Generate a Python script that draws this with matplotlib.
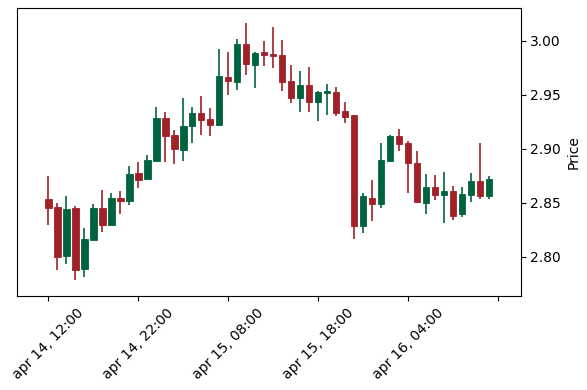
import numpy as np
import pandas as pd
import matplotlib
matplotlib.use("Agg")
from matplotlib import pyplot as plt

# hourly OHLC
opens = [2.853, 2.846, 2.801, 2.845, 2.789, 2.8155, 2.845, 2.8296, 2.8544, 2.852,
         2.8778, 2.872, 2.8886, 2.9287, 2.9127, 2.8991, 2.9213, 2.9331, 2.9275, 2.922,
         2.9664, 2.962, 2.997, 2.9778, 2.9895, 2.9877, 2.9868, 2.9627, 2.9472, 2.9593,
         2.9432, 2.9519, 2.9525, 2.9349, 2.9309, 2.8287, 2.8546, 2.8488, 2.8886, 2.9118,
         2.9056, 2.8868, 2.850, 2.8648, 2.8574, 2.8611, 2.8395, 2.8571, 2.870, 2.8565]
highs = [2.875, 2.850, 2.856, 2.847, 2.827, 2.849, 2.862, 2.8587, 2.8606, 2.884,
         2.8874, 2.894, 2.9389, 2.9337, 2.9176, 2.9472, 2.9389, 2.9491, 2.9374, 2.992,
         2.9893, 3.0016, 3.0164, 2.9893, 2.9994, 3.0124, 3.0006, 2.9775, 2.9717, 2.9756,
         2.9534, 2.9596, 2.9574, 2.943, 2.9309, 2.8587, 2.871, 2.905, 2.9127, 2.918,
         2.907, 2.898, 2.8763, 2.8756, 2.878, 2.8657, 2.8645, 2.8778, 2.905, 2.875]
lows = [2.829, 2.788, 2.793, 2.778, 2.7815, 2.8155, 2.8226, 2.8296, 2.840, 2.848,
        2.864, 2.871, 2.8874, 2.8874, 2.8858, 2.8886, 2.905, 2.9124, 2.9118, 2.922,
        2.9494, 2.954, 2.968, 2.956, 2.9766, 2.9747, 2.9534, 2.9423, 2.9337, 2.9343,
        2.9257, 2.9312, 2.9303, 2.9235, 2.816, 2.8217, 2.8333, 2.845, 2.8886, 2.8979,
        2.8587, 2.8506, 2.8393, 2.8522, 2.831, 2.834, 2.837, 2.8504, 2.8534, 2.8534]
closes = [2.845, 2.800, 2.844, 2.788, 2.816, 2.845, 2.8296, 2.8544, 2.852, 2.8766,
          2.871, 2.8895, 2.9287, 2.9115, 2.900, 2.921, 2.9331, 2.9269, 2.9222, 2.9673,
          2.963, 2.997, 2.978, 2.9886, 2.987, 2.9858, 2.962, 2.9472, 2.9593, 2.9432,
          2.9525, 2.9534, 2.9331, 2.9296, 2.8287, 2.8562, 2.8491, 2.8898, 2.912, 2.9046,
          2.887, 2.8506, 2.8648, 2.8574, 2.8608, 2.838, 2.858, 2.870, 2.8562, 2.872]

times = pd.date_range("2024-04-14 12:00", periods=len(opens), freq="h")

UP = "#006340"
DOWN = "#a02128"

fig = plt.figure(figsize=(5.87, 3.9), dpi=100)
ax = fig.add_axes([0.0295, 0.2415, 0.8575, 0.738])

x = np.arange(len(opens))
o = np.array(opens)
c = np.array(closes)
colors = [UP if cc >= oo else DOWN for oo, cc in zip(o, c)]

ax.vlines(x, lows, highs, colors=colors, linewidth=1.2, zorder=1)
ax.bar(x, np.abs(c - o), bottom=np.minimum(o, c), width=0.72,
       color=colors, edgecolor=colors, linewidth=0.6, zorder=2)

ax.set_xlim(-3.47, 52.55)
ax.set_ylim(2.7638, 3.0303)

ticks = list(range(0, len(opens) + 1, 10))
labels = [times[i].strftime("%b %d, %H:%M").lower() if i < len(times) else ""
          for i in ticks]
ax.set_xticks(ticks)
ax.set_xticklabels(labels, rotation=45, fontsize=10)

ax.yaxis.tick_right()
ax.yaxis.set_label_position("right")
ax.set_yticks([2.80, 2.85, 2.90, 2.95, 3.00])
ax.set_yticklabels(["2.80", "2.85", "2.90", "2.95", "3.00"], fontsize=10)
ax.set_ylabel("Price", fontsize=10)

fig.savefig("out.png", dpi=100)
